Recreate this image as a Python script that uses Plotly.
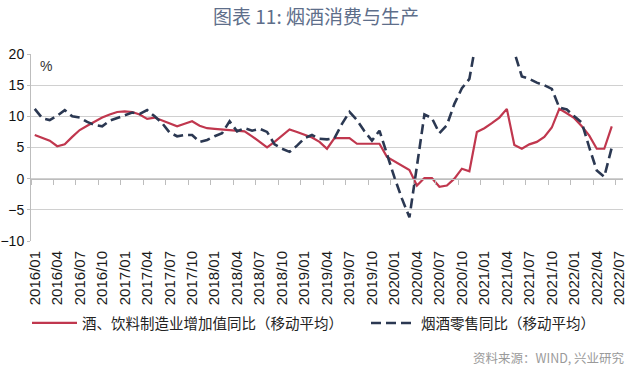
import plotly.graph_objects as go

# ---- data ----
months = [f"{y}/{m:02d}" for y in range(2016, 2023) for m in range(1, 13)][:79]  # 2016/01 .. 2022/07

liquor_va = [7.0, 6.6, 6.1, 5.2, 5.5, 6.7, 7.8, 8.5, 9.2, 9.8,
             10.3, 10.7, 10.8, 10.7, 10.3, 9.6, 9.8, 9.3, 8.8, 8.4,
             8.8, 9.2, 8.5, 8.1, 8.0, 7.9, 7.8, 7.7, 7.6, 6.8,
             5.9, 5.0, 5.9, 6.9, 7.9, 7.5, 7.1, 6.6, 5.9, 4.8,
             6.5, 6.5, 6.5, 5.6, 5.6, 5.6, 5.6, 3.5, 2.8, 2.1,
             1.4, -1.1, 0.1, 0.1, -1.3, -1.1, 0.0, 1.6, 1.2, 7.5,
             8.1, 8.9, 9.8, 11.2, 5.4, 4.8, 5.5, 5.9, 6.7, 8.2,
             11.2, 10.5, 9.7, 8.4, 6.9, 4.8, 4.8, 8.4]

tobacco_retail = [11.2, 9.7, 9.4, 10.1, 11.0, 10.0, 9.8, 9.1, 8.6, 8.4,
                  9.3, 9.7, 10.1, 10.6, 10.4, 11.0, 10.0, 8.9, 7.4, 6.8,
                  7.0, 7.0, 5.9, 6.2, 6.8, 7.3, 9.2, 7.6, 8.1, 7.7,
                  8.0, 7.5, 5.5, 4.8, 4.3, 5.3, 6.5, 7.0, 6.4, 6.3,
                  6.5, 8.8, 10.7, 9.4, 7.6, 6.1, 7.7, 3.8, 0.2, -3.2,
                  -6.2, 2.0, 10.3, 9.7, 7.3, 8.6, 12.0, 14.5, 16.0, 22.7,
                  35.0, 40.0, 38.0, 26.0, 20.3, 16.4, 16.0, 15.4, 15.0, 14.4,
                  11.4, 11.1, 10.0, 9.0, 5.0, 1.3, 0.3, 5.0]

tick_labels = months[::3]
y_ticks = [-10, -5, 0, 5, 10, 15, 20]

name_red = "酒、饮料制造业增加值同比（移动平均）"
name_blue = "烟酒零售同比（移动平均）"
title_text = "图表 11: 烟酒消费与生产"
source_text = "资料来源：WIND, 兴业研究"

RED = "#C0374E"
NAVY = "#2B3852"
GRID = "#D0D0D0"
AXIS = "#BDBDBD"
CJK = "Noto Sans CJK SC"
LAT = "Liberation Sans, Arial"

fig = go.Figure()
fig.add_trace(go.Scatter(x=months[:len(liquor_va)], y=liquor_va, name=name_red, legend="legend",
                         mode="lines", line=dict(color=RED, width=2.2)))
fig.add_trace(go.Scatter(x=months[:len(tobacco_retail)], y=tobacco_retail, name=name_blue, legend="legend2",
                         mode="lines", line=dict(color=NAVY, width=2.6, dash="10px,5px")))
n = len(months)
# invisible helper trace so the secondary (zero-line tick) axis is laid out
fig.add_trace(go.Scatter(x=[-0.5, n - 0.5], y=[None, None], xaxis="x2", yaxis="y",
                         mode="lines", showlegend=False, hoverinfo="skip"))

legend_common = dict(orientation="h", xanchor="left", y=(241 - 323) / 187, yanchor="middle",
                     font=dict(family=CJK, size=14.5, color="#222"), bgcolor="rgba(0,0,0,0)",
                     itemwidth=45)

fig.update_layout(
    width=633, height=380,
    margin=dict(l=31, r=10, t=54, b=139, autoexpand=False),
    paper_bgcolor="white", plot_bgcolor="white",
    font=dict(family=LAT, color="#222"),
    title=dict(text=title_text, x=316 / 633, xanchor="center", y=1 - 17 / 380, yanchor="middle",
               font=dict(family=CJK, size=19, color="#5E6E8A")),
    xaxis=dict(type="category", categoryorder="array", categoryarray=months,
               range=[-0.5, n - 0.5], tickmode="array", tickvals=tick_labels, ticktext=tick_labels,
               tickangle=-90, ticks="outside", ticklen=3, tickcolor="rgba(0,0,0,0)",
               showgrid=False, showline=False, zeroline=False, automargin=False,
               tickfont=dict(family=LAT, size=15, color="#1a1a1a")),
    xaxis2=dict(type="linear", overlaying="x", anchor="free", position=1 / 3, side="bottom",
                range=[-0.5, n - 0.5], tickmode="linear", tick0=-0.5, dtick=3,
                ticks="outside", ticklen=5, tickcolor=AXIS, tickwidth=1,
                showticklabels=False, showgrid=False, zeroline=False,
                showline=True, linecolor=AXIS, linewidth=1),
    yaxis=dict(range=[-10, 20], tickmode="array", tickvals=y_ticks,
               showgrid=True, gridcolor=GRID, gridwidth=1, zeroline=False,
               showline=True, linecolor=AXIS, linewidth=1, automargin=False,
               ticks="outside", ticklen=3, tickcolor=AXIS,
               tickfont=dict(family=LAT, size=14, color="#111")),
    legend=dict(x=(27 - 31) / 592, **legend_common),
    legend2=dict(x=(366 - 31) / 592, **legend_common),
    showlegend=True,
    annotations=[
        dict(text="%", xref="paper", yref="y", x=0.012, y=18.0, xanchor="left", yanchor="middle",
             showarrow=False, font=dict(family=LAT, size=14, color="#333")),
        dict(text=source_text, xref="paper", yref="paper", x=(627 - 31) / 592, y=(241 - 357) / 187,
             xanchor="right", yanchor="middle", showarrow=False,
             font=dict(family=CJK, size=12.5, color="#9A9A9A")),
    ],
)

fig.write_html("out.html",
               config={"displayModeBar": False},
               post_script="document.body.style.margin='0';document.body.style.padding='0';"
                           "document.documentElement.style.overflow='hidden';")
